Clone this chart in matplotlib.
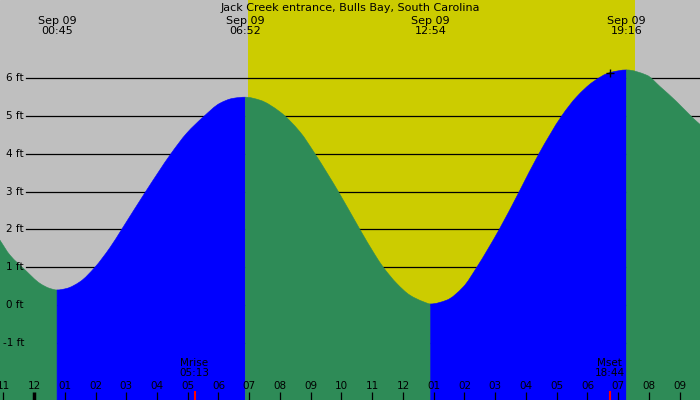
import matplotlib
matplotlib.use("Agg")
import matplotlib.pyplot as plt
from matplotlib.path import Path
from matplotlib.patches import PathPatch

# tide height readings (hours from midnight Sep 09, feet)
times = [-1.11, -0.78, -0.29, 0.20, 0.52, 0.75, 1.06, 1.50, 1.98, 2.47, 2.85, 3.63,
         4.45, 4.97, 5.51, 6.05, 6.48, 6.87, 7.35, 8.00, 8.65, 9.14, 9.90, 10.60,
         11.09, 11.36, 11.80, 12.23, 12.66, 12.90, 13.42, 13.96, 14.40, 15.13, 15.78,
         16.42, 17.16, 17.65, 18.19, 18.73, 19.27, 19.93, 20.36, 20.90, 21.44, 21.66]
heights = [1.72, 1.32, 0.93, 0.57, 0.44, 0.40, 0.44, 0.62, 1.00, 1.52, 2.00, 3.00,
           4.00, 4.55, 4.98, 5.34, 5.47, 5.50, 5.42, 5.11, 4.58, 4.00, 3.00, 2.00,
           1.33, 1.00, 0.57, 0.26, 0.09, 0.03, 0.13, 0.48, 1.00, 2.00, 3.00,
           4.00, 5.00, 5.51, 5.91, 6.15, 6.22, 6.08, 5.78, 5.38, 4.94, 4.78]

# high / low tide events
event_times = [0.75, 6.87, 12.90, 19.27]
event_labels = ["00:45", "06:52", "12:54", "19:16"]

sunrise = 6.97
sunset = 19.55
moonrise = 5.22
moonset = 18.73

ft_levels = [-1, 0, 1, 2, 3, 4, 5, 6]

title = "Jack Creek entrance, Bulls Bay, South Carolina"

GRAY = "#bfbfbf"
YELLOW = "#cccc00"
BLUE = "#0000ff"
GREEN = "#2e8b57"
BOTTOM = -3


def water_patch(xs, ys, flat_start, flat_end, color):
    # smooth monotone bezier through the readings of one rising/falling stretch
    n = len(xs)
    m = [(ys[k + 1] - ys[k]) / (xs[k + 1] - xs[k]) for k in range(n - 1)]
    d = [0.0] * n
    for k in range(1, n - 1):
        if m[k - 1] * m[k] > 0:
            d[k] = 2 / (1 / m[k - 1] + 1 / m[k])
    d[0] = 0.0 if flat_start else m[0]
    d[-1] = 0.0 if flat_end else m[-1]
    verts = [(xs[0], BOTTOM), (xs[0], ys[0])]
    codes = [Path.MOVETO, Path.LINETO]
    for k in range(n - 1):
        h = xs[k + 1] - xs[k]
        verts += [(xs[k] + h / 3, ys[k] + d[k] * h / 3),
                  (xs[k + 1] - h / 3, ys[k + 1] - d[k + 1] * h / 3),
                  (xs[k + 1], ys[k + 1])]
        codes += [Path.CURVE4] * 3
    verts += [(xs[-1], BOTTOM), (xs[0], BOTTOM)]
    codes += [Path.LINETO, Path.CLOSEPOLY]
    return PathPatch(Path(verts, codes), facecolor=color, edgecolor=color,
                     lw=0.4, zorder=3)


fig = plt.figure(figsize=(7, 4), dpi=100)
ax = fig.add_axes([0, 0, 1, 1])
ax.set_xlim(-1.106, 21.66)
ax.set_ylim(-2.51, 8.07)
ax.axis("off")
ax.add_patch(plt.Rectangle((0, 0), 1, 1, transform=ax.transAxes, color=GRAY, zorder=0))

# daylight
ax.axvspan(sunrise, sunset, color=YELLOW, zorder=1, lw=0)

# grid lines (behind the water)
for lv in ft_levels:
    ax.plot([26 / 700, 1], [lv, lv], color="black", lw=0.9,
            transform=ax.get_yaxis_transform(), zorder=2)

# water, split at every high/low
idx = [0] + [times.index(t) for t in event_times] + [len(times) - 1]
for k in range(len(idx) - 1):
    a, b = idx[k], idx[k + 1]
    rising = heights[b] > heights[a]
    ax.add_patch(water_patch(times[a:b + 1], heights[a:b + 1],
                             flat_start=(k > 0), flat_end=(k < len(idx) - 2),
                             color=BLUE if rising else GREEN))

# y labels
for lv in ft_levels:
    ax.text(24 / 700, lv, f"{lv} ft", transform=ax.get_yaxis_transform(),
            ha="right", va="center", fontsize=7.5, zorder=5)

# hour ticks and labels
for h in range(-1, 22):
    lw = 2.5 if h == 0 else 0.9
    ax.plot([h, h], [0, 8 / 400], color="black", lw=lw,
            transform=ax.get_xaxis_transform(), zorder=5, solid_capstyle="butt")
    ax.text(h, 14 / 400, f"{(h - 1) % 12 + 1:02d}", transform=ax.get_xaxis_transform(),
            ha="center", va="center", fontsize=7.5, zorder=5)

# moon rise / set
for mt, name in [(moonrise, "Mrise\n05:13"), (moonset, "Mset\n18:44")]:
    ax.plot([mt, mt], [0, 9 / 400], color="red", lw=1.5,
            transform=ax.get_xaxis_transform(), zorder=6, solid_capstyle="butt")
    ax.text(mt, 32 / 400, name, transform=ax.get_xaxis_transform(),
            ha="center", va="center", fontsize=7.5, linespacing=1.0, zorder=6)

ax.plot([moonset], [heights[times.index(moonset)]], marker="+", color="black",
        ms=6, mew=1, zorder=7)

# header
for t, lab in zip(event_times, event_labels):
    ax.text(t, 1 - 26 / 400, f"Sep 09\n{lab}", transform=ax.get_xaxis_transform(),
            ha="center", va="center", fontsize=8, linespacing=1.0, zorder=6)
ax.text(0.5, 1 - 8 / 400, title, transform=ax.transAxes,
        ha="center", va="center", fontsize=8, zorder=6)

fig.savefig("out.png", dpi=100)
